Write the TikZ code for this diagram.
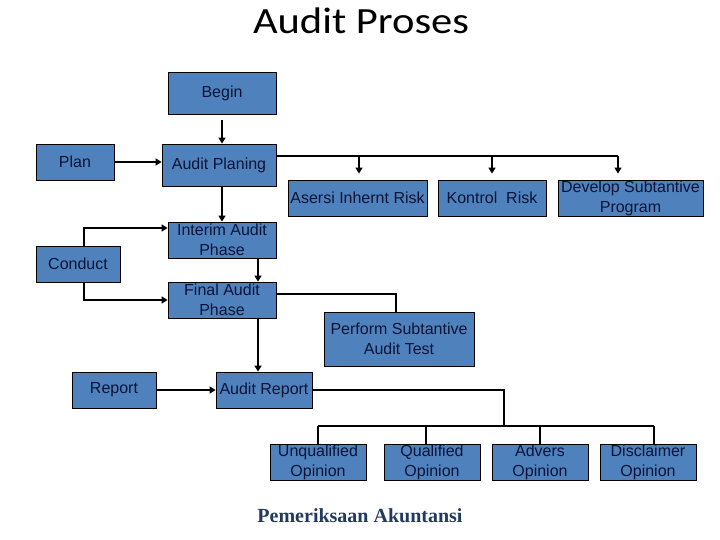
\documentclass[tikz,border=0pt]{standalone}
\usepackage{fontspec}
\setmainfont{Liberation Sans}
\newfontfamily\titlefont[FakeStretch=1.15]{Carlito}
\newfontfamily\footfont{Liberation Serif}
\usetikzlibrary{arrows.meta}
\definecolor{boxblue}{RGB}{79,129,189}
\definecolor{txtc}{RGB}{12,20,55}
\definecolor{footc}{RGB}{35,58,95}
\tikzset{
  box/.style={draw=black, line width=0.8pt, fill=boxblue, text=txtc, inner sep=0pt,
    align=center, font=\fontsize{16}{20}\selectfont},
  thickarr/.style={line width=2.4pt, -{Triangle[length=6pt,width=7pt]}},
  thinarr/.style={line width=2pt, -{Triangle[length=6pt,width=7pt]}},
  thinline/.style={line width=1.2pt}
}
\begin{document}
\begin{tikzpicture}[x=1pt,y=-1pt]
\useasboundingbox[fill=white] (0,0) rectangle (720,540);
\node[anchor=base, font=\titlefont\fontsize{37}{40}\selectfont] (title) at (361,34) {Audit Proses};

\node[box, minimum width=108pt, minimum height=42pt] (begin) at (222,93) {Begin};
\node[box, minimum width=78pt, minimum height=36pt] (plan) at (75,162) {Plan};
\node[box, minimum width=114pt, minimum height=42pt] (aplan) at (219,165) {Audit Planing};
\node[box, minimum width=139pt, minimum height=36pt] (asersi) at (357.5,198) {Asersi Inhernt Risk};
\node[box, minimum width=108pt, minimum height=36pt] (kontrol) at (492,198) {Kontrol\ \ Risk};
\node[box, minimum width=145pt, minimum height=36pt] (develop) at (630.5,198) {Develop Subtantive\\Program};
\node[box, minimum width=108pt, minimum height=36pt] (interim) at (222,240) {Interim Audit\\Phase};
\node[box, minimum width=84pt, minimum height=36pt] (conduct) at (78,264) {Conduct};
\node[box, minimum width=108pt, minimum height=36pt] (final) at (222,300) {Final Audit\\Phase};
\node[box, minimum width=150pt, minimum height=54pt] (perform) at (399,339) {Perform Subtantive\\Audit Test};
\node[box, minimum width=84pt, minimum height=36pt] (report) at (114,390) {Report};
\node[box, minimum width=96pt, minimum height=36pt] (areport) at (264,390) {Audit Report};
\node[box, minimum width=96pt, minimum height=36pt] (unq) at (318,462) {Unqualified\\Opinion};
\node[box, minimum width=96pt, minimum height=36pt] (qual) at (432,462) {Qualified\\Opinion};
\node[box, minimum width=96pt, minimum height=36pt] (adv) at (540,462) {Advers\\Opinion};
\node[box, minimum width=96pt, minimum height=36pt] (disc) at (648,462) {Disclaimer\\Opinion};

\node[anchor=base, text=footc, font=\footfont\bfseries\fontsize{20}{24}\selectfont] (foot) at (360,522) {Pemeriksaan Akuntansi};

% main flow
\draw[thickarr, shorten <=6pt] (begin.south) -- (begin.south |- aplan.north);
\draw[thickarr] (plan.east) -- (plan.east -| aplan.west);
\draw[thickarr] (interim.north |- aplan.south) -- (interim.north);
\draw[thickarr] ([xshift=6pt]conduct.north) |- ([yshift=12pt]interim.west);
\draw[thickarr] ([xshift=6pt]conduct.south) |- (final.west);
\draw[thickarr] ([xshift=36pt]interim.south) -- ([xshift=36pt]final.north);
\draw[thickarr] ([xshift=36pt]final.south) -- ([xshift=-6pt]areport.north);
\draw[thickarr] (report.east) -- (areport.west);

% planning branches
\coordinate (r3) at (618,156);
\draw[thinline] ([yshift=9pt]aplan.east) -- (r3);
\draw[thinarr, shorten >=6pt] ([xshift=1.5pt]asersi.north |- r3) -- ([xshift=1.5pt]asersi.north);
\draw[thinarr, shorten >=6pt] (kontrol.north |- r3) -- (kontrol.north);
\draw[thinarr, shorten >=6pt] (r3) -- (r3 |- develop.north);

% final -> perform
\draw[thinline] ([yshift=6pt]final.east) -| ([xshift=-3pt]perform.north);

% report -> opinions
\coordinate (bus) at (504,426);
\coordinate (b1) at (318,426);
\coordinate (b2) at (426,426);
\coordinate (b3) at (540,426);
\coordinate (b4) at (654,426);
\draw[thinline] (areport.east) -| (bus);
\draw[thinline] (b1) -- (b4);
\draw[thinline] (b1) -- (b1 |- unq.north);
\draw[thinline] (b2) -- (b2 |- qual.north);
\draw[thinline] (b3) -- (b3 |- adv.north);
\draw[thinline] (b4) -- (b4 |- disc.north);
\end{tikzpicture}
\end{document}
